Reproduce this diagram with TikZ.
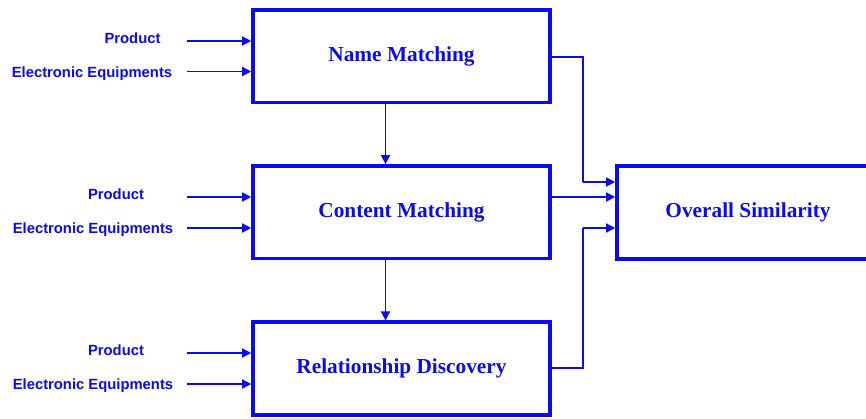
\documentclass[tikz,border=0pt]{standalone}
\usepackage{fontspec}
\setmainfont{Liberation Serif}
\newfontfamily\labelfont{Liberation Sans}
\usetikzlibrary{arrows.meta}
\definecolor{dblue}{RGB}{10,10,245}
\tikzset{
  blk/.style={draw=dblue, line width=3.6pt, rectangle, inner sep=0pt,
    minimum width=297pt, minimum height=92.5pt, text=dblue,
    font=\fontsize{21.3}{24}\selectfont\bfseries},
  inlabel/.style={text=dblue, inner sep=0pt, font=\labelfont\fontsize{14.8}{17}\selectfont\bfseries},
  conn/.style={draw=dblue, line width=1.4pt, -{Triangle[length=9pt,width=9pt]}},
  wire/.style={draw=dblue, line width=1.4pt},
}
\begin{document}
\begin{tikzpicture}[x=1pt,y=-1pt]
\useasboundingbox (0,0) rectangle (866,419);
\begin{scope}
\clip (0,0) rectangle (866,419);
% blocks
\node[blk] (nm) at (401.5,56.2) {Name Matching};
\node[blk] (cm) at (401.5,212.2) {Content Matching};
\node[blk] (rd) at (401.5,368.5) {Relationship Discovery};
\node[blk, minimum width=262pt, minimum height=93pt] (os) at (748,212.3) {Overall Similarity};
% input labels
\node[inlabel] (p1) at (132.5,38.5) {Product};
\node[inlabel] (e1) at (92,73.5) {Electronic Equipments};
\node[inlabel] (p2) at (116,194.5) {Product};
\node[inlabel] (e2) at (93,229.5) {Electronic Equipments};
\node[inlabel] (p3) at (116,350.5) {Product};
\node[inlabel] (e3) at (93,385.5) {Electronic Equipments};
% input arrow start points
\coordinate (a1) at (187,41);
\coordinate (b1) at (187,71.5);
\coordinate (a2) at (187,197);
\coordinate (b2) at (187,228);
\coordinate (a3) at (187,353);
\coordinate (b3) at (187,384);
\draw[conn] (a1) -- (a1 -| nm.west);
\draw[conn] (b1) -- (b1 -| nm.west);
\draw[conn] (a2) -- (a2 -| cm.west);
\draw[conn] (b2) -- (b2 -| cm.west);
\draw[conn] (a3) -- (a3 -| rd.west);
\draw[conn] (b3) -- (b3 -| rd.west);
% vertical arrows
\coordinate (vx) at (385.5,0);
\draw[conn] (nm.south -| vx) -- (cm.north -| vx);
\draw[conn] (cm.south -| vx) -- (rd.north -| vx);
% to overall similarity
\coordinate (n1) at (583,57);
\coordinate (j1) at (583,182);
\coordinate (c1) at (0,197);
\coordinate (r1) at (583,368);
\coordinate (j3) at (583,228);
\draw[wire] (n1 -| nm.east) -- (n1) -- (j1);
\draw[conn] (j1) -- (j1 -| os.west);
\draw[conn] (c1 -| cm.east) -- (c1 -| os.west);
\draw[wire] (r1 -| rd.east) -- (r1) -- (j3);
\draw[conn] (j3) -- (j3 -| os.west);
\end{scope}
\end{tikzpicture}
\end{document}
